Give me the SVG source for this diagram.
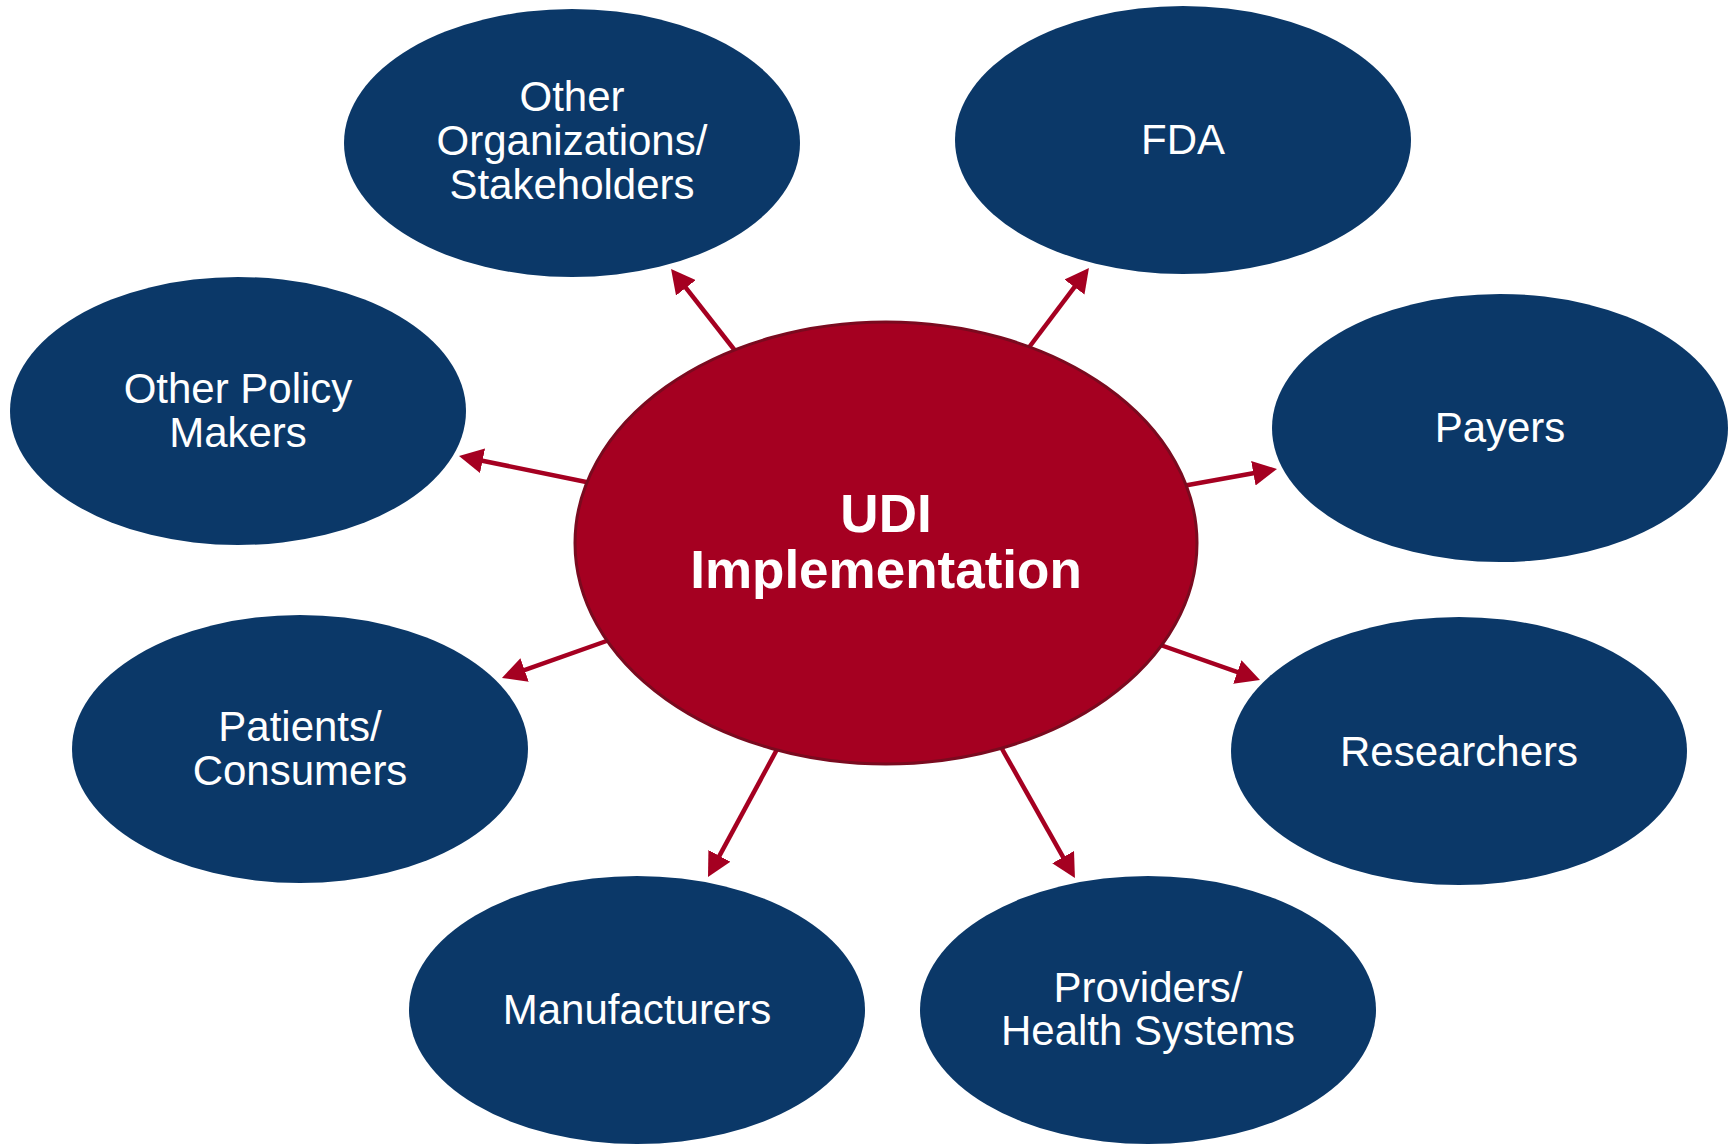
<svg xmlns="http://www.w3.org/2000/svg" width="1734" height="1144" viewBox="0 0 1734 1144">
<style>
.node ellipse{fill:#0B3868;}
.node text{fill:#ffffff;font-family:"Liberation Sans",Arial,sans-serif;font-size:42px;text-anchor:middle;}
.center ellipse{fill:#A50021;stroke:#7A0A1F;stroke-width:3;}
.center text{fill:#ffffff;font-family:"Liberation Sans",Arial,sans-serif;font-size:53px;font-weight:bold;text-anchor:middle;}
.conn line{stroke:#A50021;stroke-width:4.5;fill:none;marker-end:url(#ah);}
</style>
<defs>
<marker id="ah" markerUnits="userSpaceOnUse" markerWidth="24" markerHeight="25" viewBox="0 0 24 25" refX="4" refY="12.5" orient="auto">
<path d="M0,0 L24,12.5 L0,25 z" fill="#A50021"/>
</marker>
</defs>
<rect width="1734" height="1144" fill="#ffffff"/>
<g id="node-other-orgs" class="node">
<ellipse cx="572" cy="143" rx="228" ry="134"/>
<text x="572" y="111">Other</text>
<text x="572" y="155">Organizations/</text>
<text x="572" y="199">Stakeholders</text>
</g>
<g id="node-fda" class="node">
<ellipse cx="1183" cy="140" rx="228" ry="134"/>
<text x="1183" y="154">FDA</text>
</g>
<g id="node-other-policy" class="node">
<ellipse cx="238" cy="411" rx="228" ry="134"/>
<text x="238" y="403">Other Policy</text>
<text x="238" y="447">Makers</text>
</g>
<g id="node-payers" class="node">
<ellipse cx="1500" cy="428" rx="228" ry="134"/>
<text x="1500" y="442">Payers</text>
</g>
<g id="node-patients" class="node">
<ellipse cx="300" cy="749" rx="228" ry="134"/>
<text x="300" y="741">Patients/</text>
<text x="300" y="785">Consumers</text>
</g>
<g id="node-researchers" class="node">
<ellipse cx="1459" cy="751" rx="228" ry="134"/>
<text x="1459" y="766">Researchers</text>
</g>
<g id="node-manufacturers" class="node">
<ellipse cx="637" cy="1010" rx="228" ry="134"/>
<text x="637" y="1024">Manufacturers</text>
</g>
<g id="node-providers" class="node">
<ellipse cx="1148" cy="1010" rx="228" ry="134"/>
<text x="1148" y="1002">Providers/</text>
<text x="1148" y="1045">Health Systems</text>
</g>
<g id="connectors" class="conn">
<line x1="740" y1="357" x2="683.4" y2="284.7"/>
<line x1="1024" y1="354" x2="1076.9" y2="283.9"/>
<line x1="596" y1="484" x2="478.6" y2="460"/>
<line x1="1177" y1="487" x2="1257.3" y2="472.5"/>
<line x1="615" y1="638" x2="520.8" y2="671.3"/>
<line x1="1152" y1="642" x2="1241.1" y2="673.3"/>
<line x1="781" y1="742" x2="717.5" y2="859.4"/>
<line x1="997" y1="740" x2="1065.1" y2="860.6"/>
</g>
<g id="node-udi" class="center">
<ellipse cx="886" cy="543" rx="311" ry="221"/>
<text x="886" y="532">UDI</text>
<text x="886" y="588">Implementation</text>
</g>
</svg>
